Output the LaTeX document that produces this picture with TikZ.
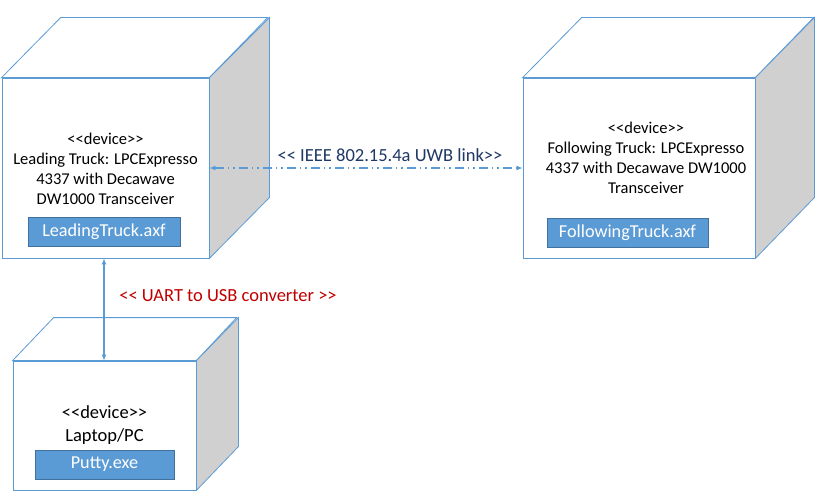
\documentclass[tikz,border=0pt]{standalone}
\usepackage{fontspec}
\setmainfont{Carlito}
\usetikzlibrary{arrows.meta}
\definecolor{edge}{HTML}{5B9BD5}
\definecolor{side}{HTML}{D0D0D0}
\definecolor{art}{HTML}{5B9BD5}
\definecolor{artb}{HTML}{41719C}
\definecolor{navy}{HTML}{1F3864}
\definecolor{dred}{HTML}{C00000}
\newcommand\lsym{<\kern0pt<}
\newcommand\gsym{>\kern0pt>}
\tikzset{
  face/.style={draw=edge, line width=0.8pt, fill=white, inner sep=0pt},
  sideface/.style={draw=edge, line width=0.8pt, fill=side},
  topface/.style={draw=edge, line width=0.8pt, fill=white},
  artifact/.style={draw=artb, line width=0.8pt, fill=art, text=white, inner sep=0pt, font=\fontsize{18.2}{20}\selectfont},
  devtext/.style={align=center, inner sep=0pt, font=\fontsize{16.5}{20}\selectfont},
  link/.style={draw=edge, line width=1.2pt, {Latex[length=6pt,width=5pt]}-{Latex[length=6pt,width=5pt]}},
  lbl/.style={font=\fontsize{18.5}{20}\selectfont, inner sep=0pt},
}
\begin{document}
\begin{tikzpicture}[x=1pt,y=-1pt]
\useasboundingbox[fill=white] (0,0) rectangle (826,503);
% Leading truck
\node[face, minimum width=207pt, minimum height=180pt] (lead) at (105.5,168) {};
\draw[topface] (lead.north west) -- ++(59,-60) -- ++(207,0) -- (lead.north east) -- cycle;
\draw[sideface] (lead.north east) -- ++(60,-60) -- ++(0,180) -- (lead.south east) -- cycle;
\node[devtext] (leadtxt) at (105.5,168.5) {\lsym device\gsym\\Leading Truck: LPCExpresso\\4337 with Decawave\\DW1000 Transceiver};
\node[artifact, minimum width=152pt, minimum height=29pt] (leadart) at (104,231.5) {LeadingTruck.axf};
% Following truck
\node[face, minimum width=232pt, minimum height=180pt] (follow) at (639,168) {};
\draw[topface] (follow.north west) -- ++(59,-60) -- ++(232,0) -- (follow.north east) -- cycle;
\draw[sideface] (follow.north east) -- ++(59,-60) -- ++(0,180) -- (follow.south east) -- cycle;
\node[devtext] (followtxt) at (646,158) {\lsym device\gsym\\Following Truck: LPCExpresso\\4337 with Decawave DW1000\\Transceiver};
\node[artifact, minimum width=161pt, minimum height=29pt] (followart) at (627.5,232.5) {FollowingTruck.axf};
% Laptop
\node[face, minimum width=183pt, minimum height=129pt] (laptop) at (104.5,425.5) {};
\draw[topface] (laptop.north west) -- ++(41,-43) -- ++(183,0) -- (laptop.north east) -- cycle;
\draw[sideface] (laptop.north east) -- ++(42,-43) -- ++(0,129) -- (laptop.south east) -- cycle;
\node[devtext, font=\fontsize{18.5}{23}\selectfont] (laptoptxt) at (104.5,425.5) {\lsym device\gsym\\Laptop/PC};
\node[artifact, minimum width=139pt, minimum height=29pt] (laptopart) at (104.5,464.5) {Putty.exe};
% Connectors
\draw[link, dash pattern=on 9pt off 4pt on 1.5pt off 4pt on 1.5pt off 4pt] (lead.east) -- (follow.west);
\node[lbl, text=navy] (uwb) at (390,155) {\lsym{} IEEE 802.15.4a UWB link\gsym};
\draw[link] (lead.south -| 104,0) -- (laptop.north -| 104,0);
\node[lbl, text=dred] (uart) at (228,296) {\lsym{} UART to USB converter \gsym};
\end{tikzpicture}
\end{document}
